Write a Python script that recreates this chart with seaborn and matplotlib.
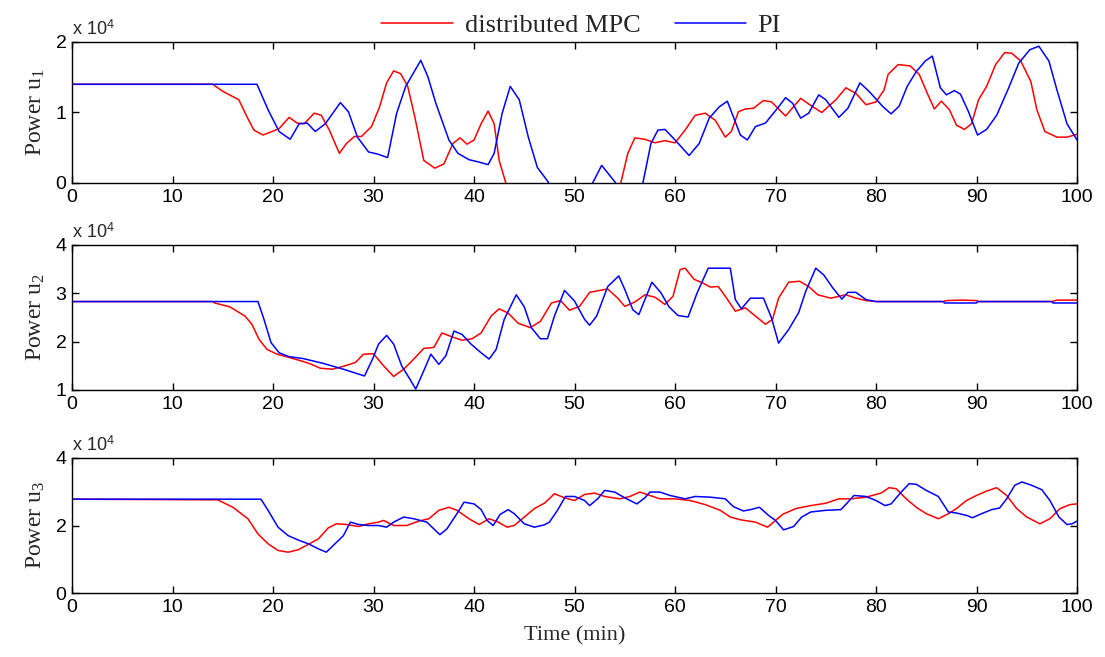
import matplotlib
matplotlib.use("Agg")
import matplotlib.pyplot as plt
import seaborn as sns

# values are in units of 10^4 (as on the axes)

# ---- u1 ----
u1_mpc_t = [0, 14, 15, 16.6, 17.4, 18.1, 19, 19.9, 20.6, 21.6, 22.4, 23.1, 24.1, 24.8, 25.6, 26.6,
            27.3, 28.1, 28.8, 29.8, 30.6, 31.3, 32.0, 32.7, 33.4, 34.1, 35.0, 36.1, 37.0, 37.9, 38.6,
            39.3, 40.0, 40.7, 41.4, 42.0, 42.5, 43.1, 43.6, 45, 50, 54, 54.6, 55.3, 56, 57, 58, 59,
            60, 61, 62, 63, 64, 65, 65.6, 66.3, 67, 67.8, 68.8, 69.6, 71, 72.5, 73.6, 74.6, 76, 77,
            78, 79, 80, 80.8, 81.2, 82.2, 83.4, 84.3, 85.1, 85.8, 86.5, 87.3, 88, 88.8, 89.5, 90.2,
            91, 91.9, 92.8, 93.5, 94.4, 95.4, 96, 96.8, 98, 99, 100]
u1_mpc = [1.40, 1.40, 1.30, 1.18, 0.94, 0.75, 0.68, 0.73, 0.77, 0.93, 0.85, 0.84, 0.99, 0.96, 0.75, 0.42,
          0.56, 0.66, 0.66, 0.80, 1.08, 1.42, 1.59, 1.55, 1.37, 0.94, 0.32, 0.21, 0.27, 0.56, 0.64,
          0.55, 0.61, 0.84, 1.02, 0.84, 0.32, 0.03, -0.2, -0.5, -0.5, -0.15, 0.0, 0.42, 0.64, 0.62, 0.57, 0.60,
          0.57, 0.75, 0.96, 0.99, 0.89, 0.65, 0.73, 1.01, 1.05, 1.06, 1.17, 1.15, 0.95, 1.20, 1.09, 1.00, 1.18, 1.35,
          1.27, 1.11, 1.15, 1.32, 1.54, 1.68, 1.66, 1.54, 1.27, 1.05, 1.16, 1.04, 0.82, 0.76, 0.84, 1.18,
          1.37, 1.68, 1.85, 1.84, 1.73, 1.44, 1.04, 0.73, 0.65, 0.65, 0.69]

u1_pi_t = [0, 18.4, 19.5, 20.6, 21.7, 22.6, 23.4, 24.2, 25.2, 26.7, 27.5, 28.4, 29.5, 30.4, 31.4, 32.3,
           33.2, 34.7, 35.4, 36.2, 37.5, 38.4, 39.5, 40.4, 41.4, 42.0, 42.8, 43.6, 44.5, 45.4, 46.3, 47.3,
           48, 49.5, 51, 51.8, 52.7, 54.1, 55, 56, 56.8, 57.6, 58.3, 59, 60, 61.4, 62.4, 63.4, 64.4,
           65.2, 65.8, 66.5, 67.2, 68, 69, 70.3, 71, 71.7, 72.5, 73.3, 74.3, 75, 76.3, 77.2, 78.4, 79.3,
           80.7, 81.5, 82.3, 83.1, 84, 84.9, 85.6, 86.4, 87, 87.8, 88.4, 89.2, 90.1, 91, 92, 93.2, 94.2,
           95.3, 96.2, 97.2, 98, 99, 100]
u1_pi = [1.40, 1.40, 1.04, 0.73, 0.62, 0.84, 0.85, 0.73, 0.84, 1.14, 1.01, 0.65, 0.44, 0.41, 0.36, 0.99,
         1.37, 1.74, 1.51, 1.13, 0.61, 0.42, 0.33, 0.30, 0.26, 0.42, 0.99, 1.37, 1.18, 0.65, 0.22, 0.03,
         -0.15, -0.3, -0.15, 0.0, 0.25, 0.0, -0.3, -0.2, 0.0, 0.56, 0.75, 0.76, 0.61, 0.39, 0.56, 0.92, 1.08,
         1.16, 0.94, 0.68, 0.61, 0.80, 0.85, 1.08, 1.21, 1.13, 0.92, 0.99, 1.25, 1.18, 0.93, 1.06, 1.42, 1.30,
         1.08, 0.98, 1.09, 1.37, 1.58, 1.73, 1.80, 1.35, 1.25, 1.31, 1.26, 1.01, 0.68, 0.76, 0.96, 1.35, 1.70,
         1.89, 1.94, 1.73, 1.32, 0.84, 0.61]

# ---- u2 ----
u2_mpc_t = [0, 14, 14.2, 15.7, 17.2, 17.9, 18.6, 19.4, 20.4, 21.3, 22.5, 23.6, 24.7, 25.9, 27.0, 28.2,
            29.0, 30.0, 31.0, 32.0, 33.0, 34.0, 35.0, 36.0, 36.8, 37.8, 38.8, 39.8, 40.7, 41.7, 42.5,
            43.4, 44.4, 45.6, 46.6, 47.7, 48.6, 49.5, 50.5, 51.5, 52.5, 53.3, 54.3, 55.0, 56.0, 57.0,
            58.0, 59.0, 59.8, 60.5, 61.0, 61.9, 62.8, 63.5, 64.3, 65.0, 66.0, 67.0, 68.0, 69.0, 69.7,
            70.3, 71.3, 72.4, 73.3, 74.2, 75.5, 77.0, 78.0, 79.0, 80.0, 86.7, 87.0, 88.5, 90.0, 90.2,
            97.5, 98.0, 100]
u2_mpc = [2.83, 2.83, 2.80, 2.72, 2.53, 2.36, 2.05, 1.84, 1.74, 1.69, 1.62, 1.55, 1.45, 1.43, 1.49, 1.57,
          1.74, 1.75, 1.50, 1.28, 1.43, 1.64, 1.86, 1.88, 2.18, 2.10, 2.03, 2.06, 2.18, 2.53, 2.68,
          2.59, 2.38, 2.29, 2.42, 2.80, 2.85, 2.65, 2.73, 3.02, 3.06, 3.09, 2.90, 2.73, 2.82, 2.97,
          2.92, 2.77, 2.94, 3.49, 3.52, 3.29, 3.21, 3.13, 3.14, 2.94, 2.63, 2.70, 2.53, 2.36, 2.46,
          2.90, 3.23, 3.25, 3.14, 2.97, 2.90, 2.97, 2.90, 2.85, 2.83, 2.83, 2.85, 2.86, 2.85, 2.83,
          2.83, 2.86, 2.86]

u2_pi_t = [0, 18.5, 19.1, 19.8, 20.6, 21.6, 23.0, 25.0, 27.0, 28.5, 29.1, 29.9, 30.5, 31.3, 32.0, 32.8,
           33.6, 34.2, 35.0, 35.7, 36.5, 37.2, 38.0, 38.8, 39.7, 40.7, 41.5, 42.2, 43.0, 44.2, 45.0,
           45.7, 46.6, 47.3, 48.0, 49.0, 50.0, 51.0, 51.5, 52.2, 53.3, 54.4, 55.0, 55.8, 56.4, 57.0,
           57.7, 58.6, 59.4, 60.3, 61.3, 62.2, 63.3, 65.5, 66.0, 66.6, 67.5, 68.8, 69.6, 70.3, 71.3,
           72.3, 73.0, 74.0, 74.8, 75.7, 76.6, 77.2, 78.0, 79.0, 80.0, 86.7, 86.8, 90.0, 90.1, 97.5,
           97.6, 100]
u2_pi = [2.83, 2.83, 2.46, 1.98, 1.77, 1.69, 1.65, 1.55, 1.43, 1.33, 1.29, 1.64, 1.95, 2.13, 1.95, 1.50,
         1.23, 1.02, 1.40, 1.74, 1.53, 1.71, 2.22, 2.15, 1.95, 1.77, 1.64, 1.84, 2.46, 2.97, 2.72,
         2.29, 2.06, 2.06, 2.53, 3.06, 2.84, 2.46, 2.34, 2.53, 3.14, 3.36, 3.08, 2.66, 2.56, 2.87,
         3.23, 3.01, 2.72, 2.54, 2.51, 3.01, 3.52, 3.52, 2.87, 2.68, 2.90, 2.90, 2.49, 1.97, 2.25,
         2.60, 3.04, 3.52, 3.38, 3.11, 2.88, 3.02, 3.02, 2.87, 2.83, 2.83, 2.80, 2.80, 2.83, 2.83,
         2.80, 2.80]

# ---- u3 ----
u3_mpc_t = [0, 14.5, 16.0, 17.5, 18.5, 19.5, 20.5, 21.5, 22.5, 23.5, 24.5, 25.5, 26.3, 27.3, 28.5, 29.5,
            30.5, 31.0, 32.0, 33.3, 34.5, 35.5, 36.5, 37.5, 38.3, 39.5, 40.5, 41.5, 42.4, 43.3, 44.0,
            45.0, 46.0, 47.0, 48.0, 49.0, 50.0, 51.0, 52.0, 53.0, 54.5, 55.5, 56.5, 57.5, 58.5, 60.0,
            61.5, 63.0, 64.5, 65.5, 66.5, 68.0, 69.2, 70.0, 70.7, 72.0, 73.5, 75.0, 76.3, 77.5, 79.0,
            80.5, 81.3, 82.0, 83.0, 84.0, 85.0, 86.2, 87.2, 88.0, 89.0, 90.0, 91.0, 92.0, 93.0, 94.0,
            95.0, 96.3, 97.3, 98.3, 99.3, 100]
u3_mpc = [2.78, 2.76, 2.54, 2.20, 1.75, 1.46, 1.26, 1.21, 1.28, 1.44, 1.60, 1.93, 2.05, 2.03, 1.97, 2.05,
          2.10, 2.15, 2.00, 2.00, 2.13, 2.20, 2.45, 2.54, 2.45, 2.20, 2.03, 2.20, 2.10, 1.95, 2.00,
          2.25, 2.50, 2.66, 2.94, 2.82, 2.74, 2.92, 2.96, 2.86, 2.79, 2.86, 2.99, 2.89, 2.79, 2.79,
          2.74, 2.62, 2.45, 2.25, 2.17, 2.10, 1.95, 2.15, 2.33, 2.50, 2.59, 2.66, 2.79, 2.79, 2.84,
          2.96, 3.12, 3.09, 2.79, 2.54, 2.35, 2.20, 2.35, 2.50, 2.74, 2.89, 3.02, 3.12, 2.89, 2.50,
          2.25, 2.05, 2.20, 2.50, 2.62, 2.64]

u3_pi_t = [0, 18.8, 19.5, 20.5, 21.5, 22.5, 23.5, 24.5, 25.3, 26.0, 27.0, 27.7, 28.5, 29.5, 30.5, 31.3,
           32.0, 33.0, 34.0, 35.3, 36.0, 36.6, 37.3, 38.3, 39.0, 40.0, 40.7, 41.3, 41.9, 42.6, 43.4,
           44.0, 45.0, 46.0, 47.0, 47.5, 48.3, 49.1, 50.0, 51.0, 51.5, 52.3, 53.0, 54.0, 55.0, 56.2,
           57.0, 57.5, 58.5, 59.5, 61.0, 62.0, 63.5, 65.0, 65.8, 66.8, 67.5, 68.4, 69.3, 70.0, 70.8,
           71.8, 72.6, 73.5, 75.0, 76.5, 77.2, 77.8, 79.0, 80.0, 80.9, 81.5, 82.5, 83.3, 84.0, 85.0,
           86.2, 87.2, 88.0, 89.0, 89.6, 90.5, 91.5, 92.3, 93.0, 93.8, 94.5, 95.5, 96.5, 97.3, 98.2,
           99.0, 99.5, 100]
u3_pi = [2.78, 2.78, 2.45, 1.95, 1.70, 1.57, 1.46, 1.31, 1.21, 1.41, 1.70, 2.10, 2.03, 2.00, 2.00, 1.95,
         2.10, 2.25, 2.20, 2.10, 1.90, 1.73, 1.90, 2.35, 2.69, 2.64, 2.47, 2.15, 2.00, 2.33, 2.47,
         2.35, 2.05, 1.95, 2.02, 2.10, 2.45, 2.86, 2.86, 2.74, 2.59, 2.79, 3.04, 2.99, 2.82, 2.64,
         2.82, 2.99, 2.99, 2.89, 2.79, 2.86, 2.84, 2.79, 2.56, 2.43, 2.47, 2.54, 2.30, 2.15, 1.87,
         1.97, 2.25, 2.40, 2.45, 2.47, 2.69, 2.89, 2.86, 2.74, 2.59, 2.64, 2.99, 3.24, 3.22, 3.04,
         2.86, 2.40, 2.37, 2.30, 2.23, 2.35, 2.47, 2.52, 2.79, 3.19, 3.29, 3.19, 3.06, 2.74, 2.25,
         2.03, 2.05, 2.13]

ylabels = ["Power u$_{1}$", "Power u$_{2}$", "Power u$_{3}$"]
ylims = [(0, 2), (1, 4), (0, 4)]
yticks = [[0, 1, 2], [1, 2, 3, 4], [0, 2, 4]]
xticks = list(range(0, 101, 10))
series_names = ["distributed MPC", "PI"]

sns.set_style("ticks")
plt.rcParams.update({
    "font.family": ["Liberation Sans", "DejaVu Sans"],
    "mathtext.fontset": "custom",
    "mathtext.rm": "Liberation Serif",
    "mathtext.it": "Liberation Serif:italic",
    "mathtext.sf": "Liberation Sans",
    "xtick.direction": "in",
    "ytick.direction": "in",
    "xtick.top": True,
    "ytick.right": True,
    "axes.edgecolor": "black",
    "axes.linewidth": 1.0,
})
serif = ["Liberation Serif", "DejaVu Serif"]

fig = plt.figure(figsize=(11.05, 6.57), dpi=100)
boxes = [
    [0.0652, 0.7215, 0.9095, 0.2146],
    [0.0652, 0.4064, 0.9095, 0.2207],
    [0.0652, 0.0974, 0.9095, 0.2055],
]
data = [(u1_mpc_t, u1_mpc, u1_pi_t, u1_pi),
        (u2_mpc_t, u2_mpc, u2_pi_t, u2_pi),
        (u3_mpc_t, u3_mpc, u3_pi_t, u3_pi)]

for i, (box, (tm, ym, tp, yp)) in enumerate(zip(boxes, data)):
    ax = fig.add_axes(box)
    sns.lineplot(x=tm, y=ym, ax=ax, color="#ff0000", lw=1.1, estimator=None, sort=False,
                 label=series_names[0])
    sns.lineplot(x=tp, y=yp, ax=ax, color="#0000ff", lw=1.1, estimator=None, sort=False,
                 label=series_names[1])
    ax.set_xlim(0, 100)
    ax.set_ylim(*ylims[i])
    ax.set_xticks(xticks)
    ax.set_yticks(yticks[i])
    ax.tick_params(labelsize=14, length=5, width=1, colors="black", pad=4)
    ax.set_ylabel(ylabels[i], fontsize=17, family=serif, labelpad=6)
    ax.set_xlabel("")
    ax.text(0.0, 1.02, r"x 10$^{\mathsf{4}}$", transform=ax.transAxes, fontsize=13,
            ha="left", va="bottom")
    for s in ax.spines.values():
        s.set_visible(True)
    handles, labels = ax.get_legend_handles_labels()
    ax.get_legend().remove()
    last = ax

last.set_xlabel("Time (min)", fontsize=16, family=serif, labelpad=8)

fig.legend(handles, labels, loc="upper center", bbox_to_anchor=(0.526, 1.015), ncol=2,
           frameon=False, prop={"family": serif, "size": 19}, handlelength=2.7,
           columnspacing=1.3, handletextpad=0.45)

fig.savefig("out.png", dpi=100)
